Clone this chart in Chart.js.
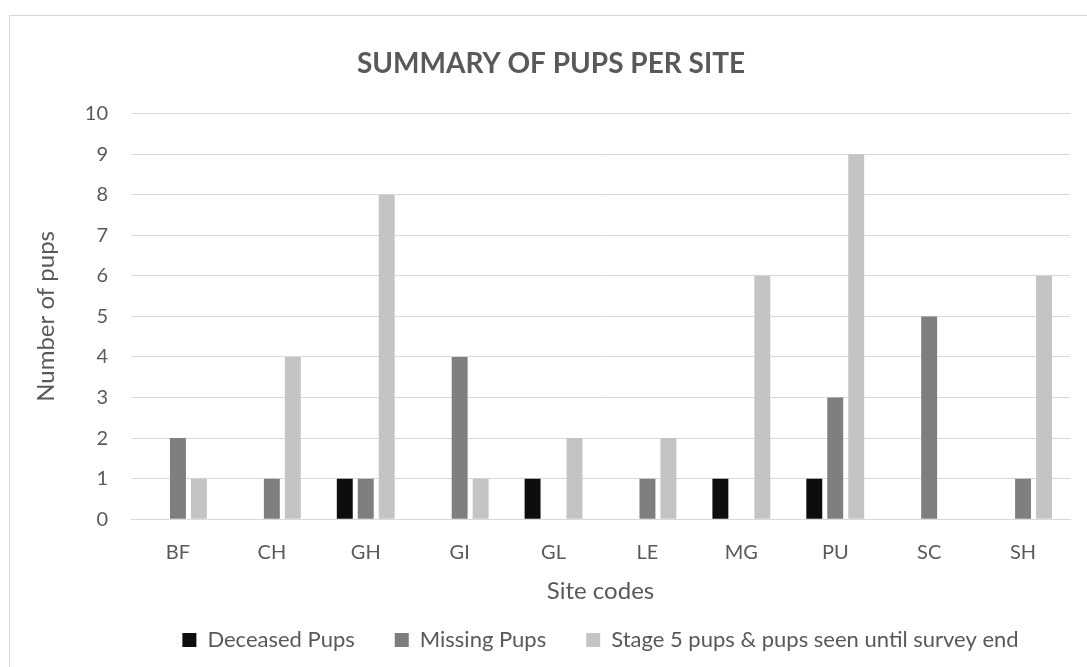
<!DOCTYPE html>
<html>
<head>
<meta charset="utf-8">
<script src="https://cdn.jsdelivr.net/npm/chart.js@4.4.1/dist/chart.umd.min.js"></script>
<style>
    html, body { margin: 0; padding: 0; background: #fff; }
    #wrap { width: 1087px; height: 667px; position: relative; }
</style>
</head>
<body>
<div id="wrap"><canvas id="pups-chart"></canvas></div>
<script>
// Chart data
const sites = ['BF', 'CH', 'GH', 'GI', 'GL', 'LE', 'MG', 'PU', 'SC', 'SH'];
const deceasedPups = [0, 0, 1, 0, 1, 0, 1, 1, 0, 0];
const missingPups = [2, 1, 1, 4, 0, 1, 0, 3, 5, 1];
const stage5Pups = [1, 4, 8, 1, 2, 2, 6, 9, 0, 6];
const yTicks = [0, 1, 2, 3, 4, 5, 6, 7, 8, 9, 10];

const textColor = '#595959';
const gridColor = '#d9d9d9';
const fontFamily = 'Lato, "Open Sans", sans-serif';

// Outer frame like the spreadsheet chart border
const framePlugin = {
    id: 'frame',
    beforeDraw(chart) {
        const ctx = chart.ctx;
        ctx.save();
        ctx.strokeStyle = gridColor;
        ctx.lineWidth = 1;
        ctx.strokeRect(9.5, 15.5, chart.width + 20, chart.height + 20);
        ctx.restore();
    },
    // centre the legend under the plot area, not the whole canvas
    afterLayout(chart) {
        if (!chart.legend) return;
        chart.legend.left = chart.chartArea.left;
        chart.legend.right = chart.chartArea.right;
    }
};

const ctx = document.getElementById('pups-chart').getContext('2d');
new Chart(ctx, {
    type: 'bar',
    data: {
        labels: sites,
        datasets: [
            { label: 'Deceased Pups', data: deceasedPups, backgroundColor: '#0d0d0d' },
            { label: 'Missing Pups', data: missingPups, backgroundColor: '#7f7f7f' },
            { label: 'Stage 5 pups & pups seen until survey end', data: stage5Pups, backgroundColor: '#c4c4c4' }
        ]
    },
    options: {
        responsive: true,
        maintainAspectRatio: false,
        animation: false,
        datasets: {
            bar: { barPercentage: 0.76, categoryPercentage: 0.67 }
        },
        layout: { padding: { left: 32, right: 17, top: 0, bottom: 6 } },
        plugins: {
            title: {
                display: true,
                text: 'SUMMARY OF PUPS PER SITE',
                color: textColor,
                font: { family: fontFamily, size: 28, weight: 'bold' },
                padding: { top: 47, bottom: 33 }
            },
            legend: {
                position: 'bottom',
                labels: {
                    color: textColor,
                    font: { family: fontFamily, size: 22 },
                    boxWidth: 14,
                    boxHeight: 14,
                    padding: 40
                }
            },
            tooltip: { enabled: false }
        },
        scales: {
            x: {
                grid: { display: false, drawTicks: false },
                border: { color: gridColor, width: 1 },
                ticks: { color: textColor, font: { family: fontFamily, size: 20 }, padding: 21 },
                title: {
                    display: true,
                    text: 'Site codes',
                    color: textColor,
                    font: { family: fontFamily, size: 24 },
                    padding: { top: -8, bottom: -17 }
                }
            },
            y: {
                min: 0,
                max: 10,
                afterFit(scale) { scale.width = 99; },
                afterBuildTicks(scale) { scale.ticks = yTicks.map(v => ({ value: v })); },
                grid: { color: gridColor, lineWidth: 1, drawTicks: false },
                border: { display: false },
                ticks: { color: textColor, font: { family: fontFamily, size: 20 }, padding: 23 },
                title: {
                    display: true,
                    text: 'Number of pups',
                    color: textColor,
                    font: { family: fontFamily, size: 24 },
                    padding: { top: 0, bottom: 0 }
                }
            }
        }
    },
    plugins: [framePlugin]
});
</script>
</body>
</html>
